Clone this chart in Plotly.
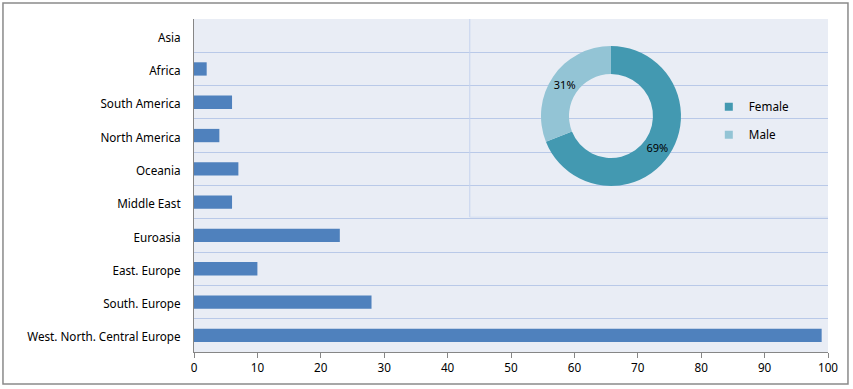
import plotly.graph_objects as go

regions = ["Asia", "Africa", "South America", "North America", "Oceania",
           "Middle East", "Euroasia", "East. Europe", "South. Europe",
           "West. North. Central Europe"]
counts = [0, 2, 6, 4, 7, 6, 23, 10, 28, 99]

gender_labels = ["Female", "Male"]
gender_values = [69, 31]
gender_colors = ["#4399b1", "#93c4d5"]

x_ticks = [0, 10, 20, 30, 40, 50, 60, 70, 80, 90, 100]

FONT = "Noto Sans"
FS = 11.7
fig = go.Figure()
fig.add_trace(go.Bar(
    y=regions, x=counts, orientation="h",
    marker=dict(color="#4f81bd", line=dict(width=0)),
    width=0.4, showlegend=False, hoverinfo="x+y",
))
fig.add_trace(go.Pie(
    labels=gender_labels, values=gender_values,
    hole=0.6, sort=False, direction="clockwise", rotation=0,
    marker=dict(colors=gender_colors, line=dict(width=0)),
    textinfo="percent", textposition="inside", insidetextorientation="horizontal",
    textfont=dict(color="#000000", size=11, family=FONT),
    domain=dict(x=[0.5473, 0.7681], y=[0.4985, 0.9189]),
    showlegend=False,
))
# legend entries for the donut slices
for lab, col in zip(gender_labels, gender_colors):
    fig.add_trace(go.Scatter(
        x=[None], y=[None], mode="markers", name=lab, legendgroup=lab,
        marker=dict(symbol="square", size=8, color=col),
        showlegend=True, hoverinfo="skip",
    ))

fig.update_layout(
    width=853, height=389,
    margin=dict(l=194, r=25, t=19, b=37),
    paper_bgcolor="white",
    plot_bgcolor="#e9edf5",
    font=dict(family=FONT, size=FS, color="#000000"),
    bargap=0.6,
    legend=dict(x=0.812, y=0.78, xanchor="left", yanchor="top",
                bgcolor="rgba(0,0,0,0)", font=dict(size=FS, family=FONT),
                itemwidth=30, tracegroupgap=9),
    xaxis=dict(range=[0, 100], tickvals=x_ticks, showgrid=False, zeroline=False,
               showline=True, linecolor="#868686", linewidth=1,
               ticks="outside", ticklen=5, tickcolor="#868686",
               tickfont=dict(size=FS, family=FONT), fixedrange=True),
    yaxis=dict(categoryorder="array", categoryarray=regions, autorange="reversed",
               showgrid=True, gridcolor="#b9c9e8", gridwidth=1, tickson="boundaries",
               showline=True, linecolor="#868686", linewidth=1, ticks="",
               ticklabelstandoff=10, ticklabelshift=-2,
               tickfont=dict(size=FS, family=FONT), fixedrange=True),
    shapes=[
        dict(type="rect", xref="paper", yref="paper", x0=-0.3013, x1=1.0315,
             y0=-0.0961, y1=1.048, line=dict(color="#8a8a8a", width=1.5),
             layer="below"),
        dict(type="line", xref="x", yref="paper", x0=43.5, x1=43.5, y0=0.405, y1=1,
             line=dict(color="#c5d3ee", width=1), layer="above"),
        dict(type="line", xref="x", yref="paper", x0=43.5, x1=100, y0=0.405, y1=0.405,
             line=dict(color="#d5def0", width=1), layer="above"),
    ],
)

fig.write_html("out.html", config={"displayModeBar": False},
               post_script="document.body.style.margin='0';document.body.style.overflow='hidden';")
